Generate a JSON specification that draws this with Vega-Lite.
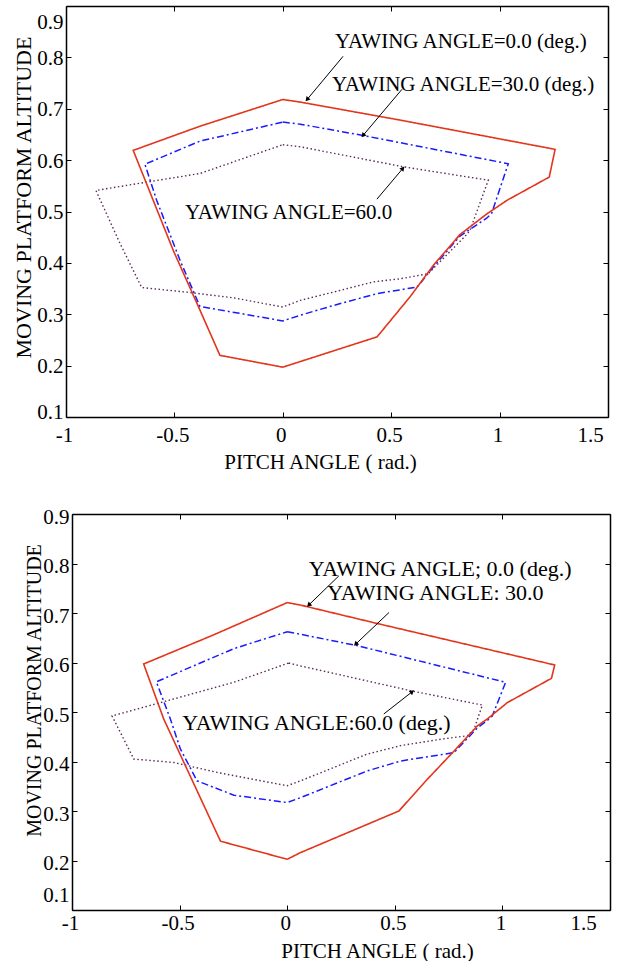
{
  "$schema": "https://vega.github.io/schema/vega-lite/v6.json",
  "padding": {"left": 12, "top": 5, "right": 5, "bottom": 0},
  "spacing": 34,
  "config": {
    "view": {"stroke": null},
    "font": "Liberation Serif",
    "axis": {
      "grid": false,
      "labelFont": "Liberation Serif",
      "labelFontSize": 21,
      "labelColor": "black",
      "titleFont": "Liberation Serif",
      "titleFontSize": 21,
      "titleFontWeight": "normal",
      "titleColor": "black",
      "domainColor": "black",
      "domainWidth": 1.5,
      "tickColor": "black",
      "tickWidth": 1,
      "tickSize": -5,
      "labelOverlap": false,
      "labelBound": false,
      "labelFlush": false
    }
  },
  "datasets": {
    "top_lines": [
      {"series": "60", "i": 0, "x": 0.0, "y": 0.630},
      {"series": "60", "i": 1, "x": 0.08, "y": 0.626},
      {"series": "60", "i": 2, "x": 0.556, "y": 0.587},
      {"series": "60", "i": 3, "x": 0.948, "y": 0.561},
      {"series": "60", "i": 4, "x": 0.863, "y": 0.463},
      {"series": "60", "i": 5, "x": 0.848, "y": 0.455},
      {"series": "60", "i": 6, "x": 0.671, "y": 0.379},
      {"series": "60", "i": 7, "x": 0.541, "y": 0.369},
      {"series": "60", "i": 8, "x": 0.418, "y": 0.363},
      {"series": "60", "i": 9, "x": 0.233, "y": 0.343},
      {"series": "60", "i": 10, "x": 0.08, "y": 0.327},
      {"series": "60", "i": 11, "x": 0.0, "y": 0.314},
      {"series": "60", "i": 12, "x": -0.228, "y": 0.332},
      {"series": "60", "i": 13, "x": -0.443, "y": 0.343},
      {"series": "60", "i": 14, "x": -0.651, "y": 0.352},
      {"series": "60", "i": 15, "x": -0.751, "y": 0.438},
      {"series": "60", "i": 16, "x": -0.862, "y": 0.541},
      {"series": "60", "i": 17, "x": -0.659, "y": 0.555},
      {"series": "60", "i": 18, "x": -0.382, "y": 0.574},
      {"series": "60", "i": 19, "x": 0.0, "y": 0.630},
      {"series": "30", "i": 0, "x": 0.0, "y": 0.674},
      {"series": "30", "i": 1, "x": 0.08, "y": 0.670},
      {"series": "30", "i": 2, "x": 0.37, "y": 0.648},
      {"series": "30", "i": 3, "x": 1.04, "y": 0.593},
      {"series": "30", "i": 4, "x": 0.963, "y": 0.496},
      {"series": "30", "i": 5, "x": 0.94, "y": 0.487},
      {"series": "30", "i": 6, "x": 0.817, "y": 0.452},
      {"series": "30", "i": 7, "x": 0.694, "y": 0.392},
      {"series": "30", "i": 8, "x": 0.62, "y": 0.353},
      {"series": "30", "i": 9, "x": 0.433, "y": 0.340},
      {"series": "30", "i": 10, "x": 0.233, "y": 0.317},
      {"series": "30", "i": 11, "x": 0.08, "y": 0.298},
      {"series": "30", "i": 12, "x": 0.0, "y": 0.287},
      {"series": "30", "i": 13, "x": -0.12, "y": 0.296},
      {"series": "30", "i": 14, "x": -0.382, "y": 0.315},
      {"series": "30", "i": 15, "x": -0.474, "y": 0.405},
      {"series": "30", "i": 16, "x": -0.582, "y": 0.522},
      {"series": "30", "i": 17, "x": -0.636, "y": 0.592},
      {"series": "30", "i": 18, "x": -0.382, "y": 0.637},
      {"series": "30", "i": 19, "x": 0.0, "y": 0.674},
      {"series": "0", "i": 0, "x": 0.0, "y": 0.718},
      {"series": "0", "i": 1, "x": 0.08, "y": 0.713},
      {"series": "0", "i": 2, "x": 0.54, "y": 0.678},
      {"series": "0", "i": 3, "x": 1.256, "y": 0.621},
      {"series": "0", "i": 4, "x": 1.229, "y": 0.567},
      {"series": "0", "i": 5, "x": 1.035, "y": 0.522},
      {"series": "0", "i": 6, "x": 0.94, "y": 0.495},
      {"series": "0", "i": 7, "x": 0.817, "y": 0.455},
      {"series": "0", "i": 8, "x": 0.694, "y": 0.395},
      {"series": "0", "i": 9, "x": 0.587, "y": 0.334},
      {"series": "0", "i": 10, "x": 0.435, "y": 0.256},
      {"series": "0", "i": 11, "x": 0.0, "y": 0.197},
      {"series": "0", "i": 12, "x": -0.29, "y": 0.220},
      {"series": "0", "i": 13, "x": -0.382, "y": 0.308},
      {"series": "0", "i": 14, "x": -0.505, "y": 0.424},
      {"series": "0", "i": 15, "x": -0.69, "y": 0.619},
      {"series": "0", "i": 16, "x": -0.382, "y": 0.666},
      {"series": "0", "i": 17, "x": 0.0, "y": 0.718}
    ],
    "bot_lines": [
      {"series": "60", "i": 0, "x": 0.007, "y": 0.599},
      {"series": "60", "i": 1, "x": 0.062, "y": 0.593},
      {"series": "60", "i": 2, "x": 0.574, "y": 0.543},
      {"series": "60", "i": 3, "x": 0.907, "y": 0.514},
      {"series": "60", "i": 4, "x": 0.868, "y": 0.465},
      {"series": "60", "i": 5, "x": 0.837, "y": 0.452},
      {"series": "60", "i": 6, "x": 0.713, "y": 0.445},
      {"series": "60", "i": 7, "x": 0.527, "y": 0.432},
      {"series": "60", "i": 8, "x": 0.372, "y": 0.415},
      {"series": "60", "i": 9, "x": 0.062, "y": 0.361},
      {"series": "60", "i": 10, "x": 0.0, "y": 0.351},
      {"series": "60", "i": 11, "x": -0.326, "y": 0.378},
      {"series": "60", "i": 12, "x": -0.527, "y": 0.398},
      {"series": "60", "i": 13, "x": -0.713, "y": 0.405},
      {"series": "60", "i": 14, "x": -0.814, "y": 0.492},
      {"series": "60", "i": 15, "x": -0.589, "y": 0.519},
      {"series": "60", "i": 16, "x": -0.248, "y": 0.560},
      {"series": "60", "i": 17, "x": 0.007, "y": 0.599},
      {"series": "30", "i": 0, "x": 0.0, "y": 0.662},
      {"series": "30", "i": 1, "x": 0.062, "y": 0.657},
      {"series": "30", "i": 2, "x": 0.326, "y": 0.634},
      {"series": "30", "i": 3, "x": 1.015, "y": 0.560},
      {"series": "30", "i": 4, "x": 0.953, "y": 0.492},
      {"series": "30", "i": 5, "x": 0.93, "y": 0.483},
      {"series": "30", "i": 6, "x": 0.884, "y": 0.468},
      {"series": "30", "i": 7, "x": 0.775, "y": 0.418},
      {"series": "30", "i": 8, "x": 0.527, "y": 0.401},
      {"series": "30", "i": 9, "x": 0.372, "y": 0.381},
      {"series": "30", "i": 10, "x": 0.062, "y": 0.327},
      {"series": "30", "i": 11, "x": 0.0, "y": 0.317},
      {"series": "30", "i": 12, "x": -0.248, "y": 0.332},
      {"series": "30", "i": 13, "x": -0.419, "y": 0.361},
      {"series": "30", "i": 14, "x": -0.496, "y": 0.425},
      {"series": "30", "i": 15, "x": -0.543, "y": 0.486},
      {"series": "30", "i": 16, "x": -0.608, "y": 0.561},
      {"series": "30", "i": 17, "x": -0.248, "y": 0.628},
      {"series": "30", "i": 18, "x": 0.0, "y": 0.662},
      {"series": "0", "i": 0, "x": 0.0, "y": 0.721},
      {"series": "0", "i": 1, "x": 0.062, "y": 0.716},
      {"series": "0", "i": 2, "x": 0.426, "y": 0.678},
      {"series": "0", "i": 3, "x": 1.243, "y": 0.595},
      {"series": "0", "i": 4, "x": 1.228, "y": 0.568},
      {"series": "0", "i": 5, "x": 1.023, "y": 0.519},
      {"series": "0", "i": 6, "x": 0.93, "y": 0.486},
      {"series": "0", "i": 7, "x": 0.884, "y": 0.472},
      {"series": "0", "i": 8, "x": 0.775, "y": 0.421},
      {"series": "0", "i": 9, "x": 0.651, "y": 0.364},
      {"series": "0", "i": 10, "x": 0.519, "y": 0.300},
      {"series": "0", "i": 11, "x": 0.062, "y": 0.216},
      {"series": "0", "i": 12, "x": 0.0, "y": 0.2025},
      {"series": "0", "i": 13, "x": -0.31, "y": 0.239},
      {"series": "0", "i": 14, "x": -0.574, "y": 0.486},
      {"series": "0", "i": 15, "x": -0.667, "y": 0.597},
      {"series": "0", "i": 16, "x": -0.341, "y": 0.656},
      {"series": "0", "i": 17, "x": 0.0, "y": 0.721}
    ],
    "top_text": [
      {"label": "YAWING ANGLE=0.0 (deg.)", "x": 0.241, "y": 0.829},
      {"label": "YAWING ANGLE=30.0 (deg.)", "x": 0.227, "y": 0.746},
      {"label": "YAWING ANGLE=60.0", "x": -0.451, "y": 0.498}
    ],
    "bot_text": [
      {"label": "YAWING ANGLE; 0.0 (deg.)", "x": 0.1, "y": 0.789},
      {"label": "YAWING ANGLE: 30.0", "x": 0.186, "y": 0.740},
      {"label": "YAWING ANGLE:60.0 (deg.)", "x": -0.488, "y": 0.477}
    ],
    "top_arrows": [
      {"x": 0.278, "y": 0.802, "hx": 0.112, "hy": 0.718, "angle": 220},
      {"x": 0.55, "y": 0.738, "hx": 0.37, "hy": 0.648, "angle": 220},
      {"x": 0.434, "y": 0.524, "hx": 0.554, "hy": 0.584, "angle": 40}
    ],
    "bot_arrows": [
      {"x": 0.24, "y": 0.775, "hx": 0.1, "hy": 0.716, "angle": 226},
      {"x": 0.473, "y": 0.701, "hx": 0.318, "hy": 0.637, "angle": 226},
      {"x": 0.449, "y": 0.496, "hx": 0.581, "hy": 0.541, "angle": 52}
    ]
  },
  "vconcat": [
    {
      "width": 542,
      "height": 411,
      "layer": [
        {
          "data": {"name": "top_lines"},
          "mark": {"type": "line", "strokeJoin": "miter"},
          "encoding": {
            "x": {"field": "x", "type": "quantitative",
              "scale": {"domain": [-1, 1.5], "nice": false, "zero": false},
              "axis": {"orient": "bottom", "values": [-1, -0.5, 0, 0.5, 1, 1.5], "labelExpr": "'' + datum.value",
                "labelBaseline": "alphabetic", "labelPadding": 29,
                "labelOffset": {"condition": {"test": "datum.value > 1.4", "value": -18}, "value": -2},
                "title": "PITCH ANGLE ( rad.)", "titleX": 254, "titleY": 51, "titleBaseline": "alphabetic", "titleAlign": "center"}},
            "y": {"field": "y", "type": "quantitative",
              "scale": {"domain": [0.1, 0.9], "nice": false, "zero": false},
              "axis": {"orient": "left", "values": [0.1, 0.2, 0.3, 0.4, 0.5, 0.6, 0.7, 0.8, 0.9], "labelExpr": "'' + datum.value",
                "labelPadding": 8,
                "labelOffset": {"condition": {"test": "datum.value > 0.85", "value": 16}, "value": 1},
                "labelBaseline": {"condition": {"test": "datum.value < 0.15", "value": "alphabetic"}, "value": "middle"},
                "title": "MOVING PLATFORM ALTITUDE", "titleX": -36, "titleY": 191, "titleBaseline": "alphabetic", "titleAlign": "center", "titleFontSize": 22}},
            "color": {"field": "series", "type": "nominal", "legend": null,
              "scale": {"domain": ["60", "30", "0"], "range": ["#5e2a58", "#1a1aff", "#e2351c"]}},
            "strokeDash": {"field": "series", "type": "nominal", "legend": null,
              "scale": {"domain": ["60", "30", "0"], "range": [[1.5, 2.5], [7, 3, 2, 3], [1, 0]]}},
            "strokeWidth": {"field": "series", "type": "ordinal", "legend": null,
              "scale": {"domain": ["60", "30", "0"], "range": [1.4, 1.6, 2.5]}},
            "order": {"field": "i", "type": "quantitative"}
          }
        },
        {
          "data": {"name": "top_text"},
          "mark": {"type": "text", "align": "left", "baseline": "middle", "fontSize": 21, "font": "Liberation Serif", "color": "black"},
          "encoding": {
            "x": {"field": "x", "type": "quantitative",
              "scale": {"domain": [-1, 1.5], "nice": false, "zero": false},
              "axis": {"orient": "top", "values": [-1, -0.5, 0, 0.5, 1, 1.5], "labels": false, "title": null}},
            "y": {"field": "y", "type": "quantitative",
              "scale": {"domain": [0.1, 0.9], "nice": false, "zero": false},
              "axis": {"orient": "right", "values": [0.1, 0.2, 0.3, 0.4, 0.5, 0.6, 0.7, 0.8, 0.9], "labels": false, "title": null}},
            "text": {"field": "label"}
          }
        },
        {
          "data": {"name": "top_arrows"},
          "mark": {"type": "rule", "color": "black", "strokeWidth": 1},
          "encoding": {
            "x": {"field": "x", "type": "quantitative", "axis": null},
            "y": {"field": "y", "type": "quantitative", "axis": null},
            "x2": {"field": "hx"},
            "y2": {"field": "hy"}
          }
        },
        {
          "data": {"name": "top_arrows"},
          "mark": {"type": "point", "shape": "triangle-up", "filled": true, "color": "black", "size": 28, "opacity": 1},
          "encoding": {
            "x": {"field": "hx", "type": "quantitative", "axis": null},
            "y": {"field": "hy", "type": "quantitative", "axis": null},
            "angle": {"field": "angle", "type": "quantitative", "scale": null}
          }
        }
      ],
      "resolve": {"axis": {"x": "independent", "y": "independent"}}
    },
    {
      "width": 544,
      "height": 396,
      "layer": [
        {
          "data": {"name": "bot_lines"},
          "mark": {"type": "line", "strokeJoin": "miter"},
          "encoding": {
            "x": {"field": "x", "type": "quantitative",
              "scale": {"domain": [-1, 1.5], "nice": false, "zero": false, "range": [6, 544]},
              "axis": {"orient": "bottom", "values": [-1, -0.5, 0, 0.5, 1, 1.5], "labelExpr": "'' + datum.value",
                "labelBaseline": "alphabetic", "labelPadding": 24,
                "labelOffset": {"condition": {"test": "datum.value > 1.4", "value": -27}, "value": -2},
                "title": "PITCH ANGLE ( rad.)", "titleX": 311, "titleY": 47, "titleBaseline": "alphabetic", "titleAlign": "center"}},
            "y": {"field": "y", "type": "quantitative",
              "scale": {"domain": [0.1, 0.9], "nice": false, "zero": false},
              "axis": {"orient": "left", "offset": -6, "values": [0.1, 0.2, 0.3, 0.4, 0.5, 0.6, 0.7, 0.8, 0.9], "labelExpr": "'' + datum.value",
                "labelPadding": 8,
                "labelOffset": {"condition": {"test": "datum.value < 0.15", "value": -15}, "value": 3},
                "title": "MOVING PLATFORM ALTITUDE", "titleX": -32, "titleY": 176, "titleBaseline": "alphabetic", "titleAlign": "center", "titleFontSize": 20}},
            "color": {"field": "series", "type": "nominal", "legend": null,
              "scale": {"domain": ["60", "30", "0"], "range": ["#5e2a58", "#1a1aff", "#e2351c"]}},
            "strokeDash": {"field": "series", "type": "nominal", "legend": null,
              "scale": {"domain": ["60", "30", "0"], "range": [[1.5, 2.5], [7, 3, 2, 3], [1, 0]]}},
            "strokeWidth": {"field": "series", "type": "ordinal", "legend": null,
              "scale": {"domain": ["60", "30", "0"], "range": [1.4, 1.6, 2.5]}},
            "order": {"field": "i", "type": "quantitative"}
          }
        },
        {
          "data": {"name": "bot_text"},
          "mark": {"type": "text", "align": "left", "baseline": "middle", "fontSize": 22, "font": "Liberation Serif", "color": "black"},
          "encoding": {
            "x": {"field": "x", "type": "quantitative",
              "scale": {"domain": [-1, 1.5], "nice": false, "zero": false, "range": [6, 544]},
              "axis": {"orient": "top", "values": [-1, -0.5, 0, 0.5, 1, 1.5], "labels": false, "title": null}},
            "y": {"field": "y", "type": "quantitative",
              "scale": {"domain": [0.1, 0.9], "nice": false, "zero": false},
              "axis": {"orient": "right", "values": [0.1, 0.2, 0.3, 0.4, 0.5, 0.6, 0.7, 0.8, 0.9], "labels": false, "title": null}},
            "text": {"field": "label"}
          }
        },
        {
          "data": {"name": "bot_arrows"},
          "mark": {"type": "rule", "color": "black", "strokeWidth": 1},
          "encoding": {
            "x": {"field": "x", "type": "quantitative", "axis": null},
            "y": {"field": "y", "type": "quantitative", "axis": null},
            "x2": {"field": "hx"},
            "y2": {"field": "hy"}
          }
        },
        {
          "data": {"name": "bot_arrows"},
          "mark": {"type": "point", "shape": "triangle-up", "filled": true, "color": "black", "size": 28, "opacity": 1},
          "encoding": {
            "x": {"field": "hx", "type": "quantitative", "axis": null},
            "y": {"field": "hy", "type": "quantitative", "axis": null},
            "angle": {"field": "angle", "type": "quantitative", "scale": null}
          }
        }
      ],
      "resolve": {"axis": {"x": "independent", "y": "independent"}}
    }
  ]
}
